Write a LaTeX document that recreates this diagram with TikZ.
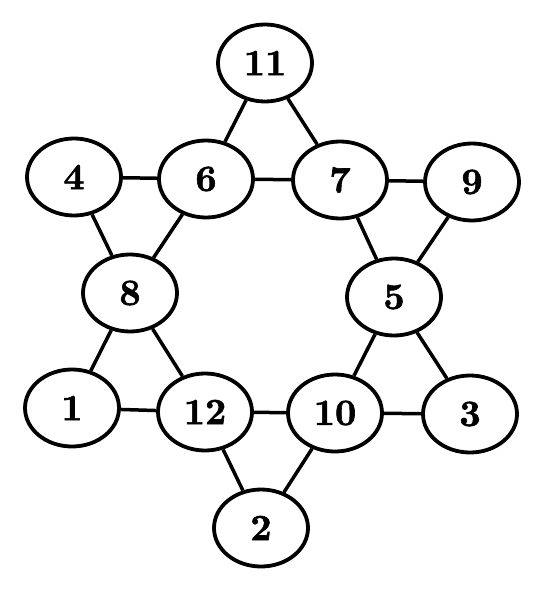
\documentclass[tikz,border=0pt]{standalone}
\usepackage{fontspec}
\usetikzlibrary{shapes.geometric}
\newfontface\heavyface{lmroman10-bold}[Extension=.otf,FakeBold=1.6]
\newcommand{\vfont}{\fontsize{37}{42}\heavyface}
\begin{document}
\begin{tikzpicture}[x=1pt,y=-1pt,
  vert/.style={ellipse,draw,line width=3.8pt,minimum width=94pt,minimum height=77pt,inner sep=0pt,font=\vfont},
  edge/.style={line width=3.5pt}]
\useasboundingbox (0,0) rectangle (550,591);
\node[vert] (n11) at (265,63) {11};
\node[vert] (n4) at (74,177) {4};
\node[vert] (n6) at (206,179) {6};
\node[vert] (n7) at (340,180) {7};
\node[vert] (n9) at (472,182) {9};
\node[vert] (n8) at (130,293) {8};
\node[vert] (n5) at (394,297) {5};
\node[vert] (n1) at (72,408) {1};
\node[vert] (n12) at (205,412) {12};
\node[vert] (n10) at (335,413) {10};
\node[vert] (n3) at (470,414) {3};
\node[vert] (n2) at (261,528) {2};
\draw[edge] (n4) -- (n6);
\draw[edge] (n6) -- (n7);
\draw[edge] (n7) -- (n9);
\draw[edge] (n1) -- (n12);
\draw[edge] (n12) -- (n10);
\draw[edge] (n10) -- (n3);
\draw[edge] (n11) -- (n6);
\draw[edge] (n11) -- (n7);
\draw[edge] (n4) -- (n8);
\draw[edge] (n6) -- (n8);
\draw[edge] (n8) -- (n1);
\draw[edge] (n8) -- (n12);
\draw[edge] (n7) -- (n5);
\draw[edge] (n9) -- (n5);
\draw[edge] (n5) -- (n10);
\draw[edge] (n5) -- (n3);
\draw[edge] (n12) -- (n2);
\draw[edge] (n10) -- (n2);
\end{tikzpicture}
\end{document}
